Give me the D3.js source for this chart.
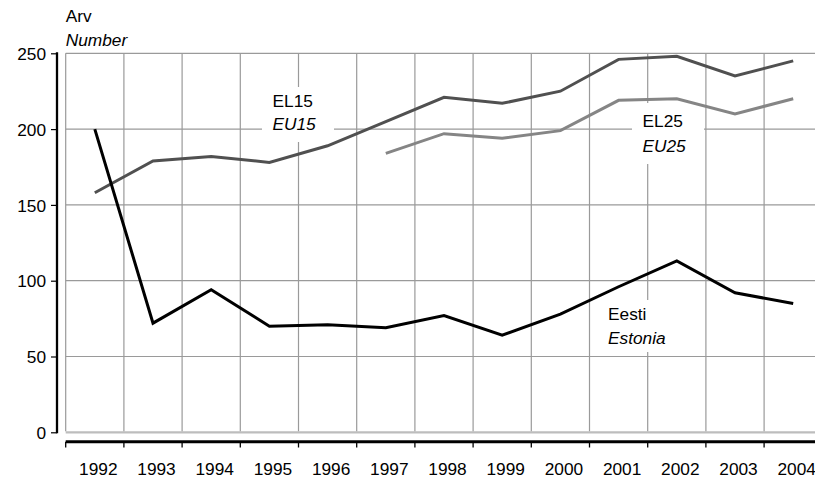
<!DOCTYPE html>
<html><head><meta charset="utf-8">
<script src="https://cdn.jsdelivr.net/npm/d3@7"></script>
<style>
html,body{margin:0;padding:0;background:#fff;}
svg{display:block;font-family:"Liberation Sans",Arial,sans-serif;}
</style></head>
<body>
<svg id="chart" width="815" height="480"></svg>
<script>
const years = ["1992","1993","1994","1995","1996","1997","1998","1999","2000","2001","2002","2003","2004"];
const estonia = [200,72,94,70,71,69,77,64,78,96,113,92,85];
const eu15 = [158,179,182,178,189,205,221,217,225,246,248,235,245];
const eu25 = [null,null,null,null,null,184,197,194,199,219,220,210,220];
const yTicks = [0,50,100,150,200,250];

(function(){
const svg = d3.select("#chart");
const W = 815;
const pLeft = 65.7, pRight = 822.3, pTop = 53.3, pBottom = 432.3;
const x = d3.scaleBand().domain(years).range([pLeft, pRight]).padding(0);
const y = d3.scaleLinear().domain([0,250]).range([pBottom, pTop]);
const cx = d => x(d) + x.bandwidth()/2;

const FS = 17.3;
const FF = "'Liberation Sans', Arial, sans-serif";

// horizontal gridlines
svg.append("g").selectAll("line").data(yTicks.filter(d=>d>0)).join("line")
  .attr("x1", pLeft).attr("x2", W).attr("y1", d=>y(d)).attr("y2", d=>y(d))
  .attr("stroke", "#9a9a9a").attr("stroke-width", 1.2);
// zero line (lighter, thicker)
svg.append("line").attr("x1", pLeft).attr("x2", W).attr("y1", y(0)).attr("y2", y(0))
  .attr("stroke", "#bdbdbd").attr("stroke-width", 2.2);
// vertical gridlines at category boundaries
svg.append("g").selectAll("line").data(years).join("line")
  .attr("x1", d=>x(d)).attr("x2", d=>x(d)).attr("y1", pTop).attr("y2", y(0)-1)
  .attr("stroke", "#9a9a9a").attr("stroke-width", 1.2);

// white label boxes
const boxes = [
  {x0:262, x1:334, y0:87, y1:142},
  {x0:632, x1:704, y0:103, y1:164},
  {x0:600, x1:676, y0:300, y1:352}
];
svg.append("g").selectAll("rect").data(boxes).join("rect")
  .attr("x", d=>d.x0).attr("y", d=>d.y0).attr("width", d=>d.x1-d.x0).attr("height", d=>d.y1-d.y0)
  .attr("fill", "#fff");

// y axis
const yAxis = d3.axisLeft(y).tickValues(yTicks).tickSize(6).tickPadding(5);
const gy = svg.append("g").attr("transform", `translate(57,0)`).call(yAxis);
gy.select(".domain").attr("stroke", "#000").attr("stroke-width", 2.3).attr("d", `M0,${pTop-1}V${pBottom+1}`);
gy.selectAll(".tick line").attr("stroke", "#000").attr("stroke-width", 1.2);
gy.selectAll(".tick text").attr("font-size", FS).attr("fill", "#000")
  .attr("font-family", FF).attr("dy", "0.36em");

// x axis
const xAxis = d3.axisBottom(x).tickSize(0).tickPadding(0);
const gx = svg.append("g").attr("transform", `translate(0,441.7)`).call(xAxis);
gx.select(".domain").attr("stroke", "#000").attr("stroke-width", 3).attr("d", `M${pLeft},0H${W}`);
gx.selectAll(".tick text").attr("font-size", FS).attr("fill", "#000")
  .attr("font-family", FF)
  .attr("x", 3.5).attr("y", 33.3).attr("dy", 0);
// boundary tick marks
svg.append("g").selectAll("line").data(years).join("line")
  .attr("x1", d=>x(d)).attr("x2", d=>x(d)).attr("y1", 441.7).attr("y2", 447.5)
  .attr("stroke", "#000").attr("stroke-width", 1.3);

// lines
const line = d3.line().defined(d=>d.v!=null).x(d=>cx(d.yr)).y(d=>y(d.v));
const mk = arr => years.map((yr,i)=>({yr, v:arr[i]}));
svg.append("path").datum(mk(eu25)).attr("d", line).attr("fill","none")
  .attr("stroke","#858585").attr("stroke-width",3).attr("stroke-linejoin","miter");
svg.append("path").datum(mk(eu15)).attr("d", line).attr("fill","none")
  .attr("stroke","#505050").attr("stroke-width",3).attr("stroke-linejoin","miter");
svg.append("path").datum(mk(estonia)).attr("d", line).attr("fill","none")
  .attr("stroke","#000").attr("stroke-width",3).attr("stroke-linejoin","miter");

// texts
const texts = [
  {t:"Arv", x:65.7, y:21.7, it:false},
  {t:"Number", x:65.7, y:45.5, it:true},
  {t:"EL15", x:272.5, y:107, it:false},
  {t:"EU15", x:272.5, y:130.3, it:true},
  {t:"EL25", x:642.5, y:127.3, it:false},
  {t:"EU25", x:642.5, y:151.5, it:true},
  {t:"Eesti", x:608, y:320, it:false},
  {t:"Estonia", x:608, y:344, it:true}
];
svg.append("g").selectAll("text").data(texts).join("text")
  .attr("x", d=>d.x).attr("y", d=>d.y).text(d=>d.t)
  .attr("font-family", FF)
  .attr("font-size", FS).attr("fill", "#000")
  .attr("font-style", d=>d.it?"italic":"normal");
})();
</script>
</body></html>
